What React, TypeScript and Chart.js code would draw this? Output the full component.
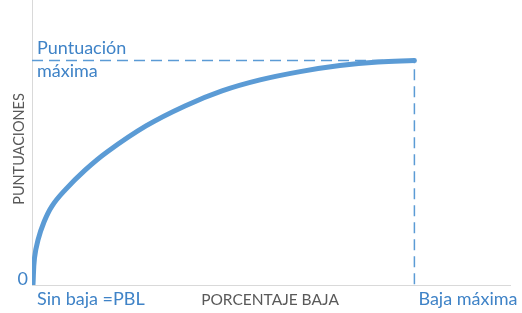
import React, { useEffect, useRef } from "react";
import { Chart, registerables } from "chart.js";

Chart.register(...registerables);

// Percentage of drop (x) vs score (y)
const bajaValues = [0.2, 0.52, 1.26, 2.51, 4.18, 6.9, 11.1, 15.7, 23.85, 32.0, 39.75, 47.7, 56.1, 64.4, 72.4, 80];
const puntuacionValues = [0, 12.0, 20.1, 28.1, 35.2, 42.3, 51.2, 59.3, 70.9, 79.8, 86.5, 91.4, 95.1, 97.8, 99.4, 100];
const bajaMaxima = 80;
const puntuacionMaxima = 100;
const xMax = 100;
const yMax = 127;

const labelPuntuacion = ["Puntuación", "máxima"];
const labelCero = "0";
const labelSinBaja = "Sin baja =PBL";
const labelBajaMaxima = "Baja máxima";
const titleX = "PORCENTAJE BAJA";
const titleY = "PUNTUACIONES";

const BLUE = "#5B9BD5";
const TEXT_BLUE = "#3F83C7";
const GRAY_TEXT = "#595959";
const FONT = "Lato, 'Open Sans', sans-serif";

export default function App() {
  const ref = useRef<HTMLCanvasElement>(null);
  useEffect(() => {
    document.body.style.margin = "0";
    const canvas = ref.current!;
    const textPlugin = {
      id: "textPlugin",
      afterDraw(chart: any) {
        const { ctx, scales } = chart;
        const x = scales.x;
        const y = scales.y;
        const x0 = x.getPixelForValue(0);
        const xm = x.getPixelForValue(bajaMaxima);
        const y0 = y.getPixelForValue(0);
        const ym = y.getPixelForValue(puntuacionMaxima);
        ctx.save();
        ctx.fillStyle = TEXT_BLUE;
        ctx.textBaseline = "alphabetic";
        ctx.font = `18px ${FONT}`;
        ctx.textAlign = "left";
        ctx.fillText(labelPuntuacion[0], x0 + 5, ym - 7);
        ctx.fillText(labelPuntuacion[1], x0 + 5, ym + 16);
        ctx.textAlign = "right";
        ctx.fillText(labelCero, x0 - 4, y0);
        ctx.textAlign = "left";
        ctx.fillText(labelSinBaja, x0 + 5, y0 + 20);
        ctx.fillText(labelBajaMaxima, xm + 4, y0 + 20);
        ctx.fillStyle = GRAY_TEXT;
        ctx.font = `15.5px ${FONT}`;
        ctx.textAlign = "center";
        ctx.fillText(titleX, 270, y0 + 20);
        ctx.font = `14.5px ${FONT}`;
        ctx.translate(24, 149);
        ctx.rotate(-Math.PI / 2);
        ctx.fillText(titleY, 0, 0);
        ctx.restore();
      },
    };
    const chart = new Chart(canvas, {
      type: "line",
      data: {
        datasets: [
          {
            data: bajaValues.map((v, i) => ({ x: v, y: puntuacionValues[i] })),
            borderColor: BLUE,
            borderWidth: 5,
            pointRadius: 0,
            tension: 0.4,
            borderCapStyle: "round",
            borderJoinStyle: "round",
            order: 0,
          },
          {
            data: [
              { x: 0, y: puntuacionMaxima },
              { x: bajaMaxima, y: puntuacionMaxima },
              { x: bajaMaxima, y: 0 },
            ],
            borderColor: BLUE,
            borderWidth: 1.5,
            borderDash: [11, 6],
            pointRadius: 0,
            tension: 0,
            order: 1,
          },
        ],
      },
      options: {
        responsive: false,
        animation: false,
        layout: { padding: { left: 24, right: 12, top: 0, bottom: 20 } },
        plugins: { legend: { display: false }, tooltip: { enabled: false } },
        scales: {
          x: {
            type: "linear",
            min: 0,
            max: xMax,
            grid: { display: false },
            ticks: { display: false },
            border: { color: "#D9D9D9", width: 1 },
          },
          y: {
            type: "linear",
            min: 0,
            max: yMax,
            grid: { display: false },
            ticks: { display: false },
            border: { color: "#D9D9D9", width: 1 },
          },
        },
      },
      plugins: [textPlugin],
    });
    return () => chart.destroy();
  }, []);
  return (
    <div style={{ width: 522, height: 313 }}>
      <canvas ref={ref} width={522} height={313} style={{ display: "block" }} />
    </div>
  );
}
